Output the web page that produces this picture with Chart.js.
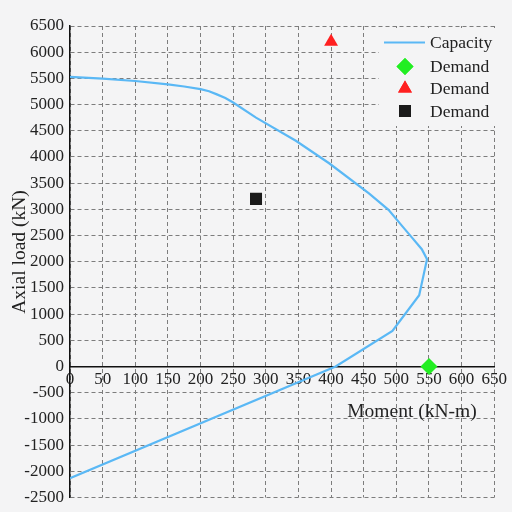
<!DOCTYPE html>
<html>
<head>
<meta charset="utf-8">
<script src="https://cdn.jsdelivr.net/npm/chart.js"></script>
<style>
  html, body { margin: 0; padding: 0; background: #f4f4f5; }
  canvas { display: block; }
</style>
</head>
<body>
<canvas id="myChart" width="512" height="512"></canvas>
<script>
// interaction diagram values
let capMoment = [0, 50, 100, 150, 175, 200, 213, 225, 238, 250, 285, 346, 397, 458, 488, 509, 524, 539, 547, 535, 494, 407, 0];
let capAxial = [5530, 5495, 5450, 5385, 5345, 5295, 5255, 5195, 5125, 5040, 4750, 4310, 3880, 3306, 2990, 2680, 2460, 2240, 2050, 1360, 680, 0, -2130];

let demandLabels = ['Demand', 'Demand', 'Demand'];
let demandMoment = [550, 400, 285];
let demandAxial = [0, 6200, 3200];
let demandColors = ['#22ee22', '#ff2020', '#1a1a1a'];
let demandStyles = ['rectRot', 'triangle', 'rect'];
let demandRadius = [8.5, 8, 8.5];

let bgColor = '#f4f4f5';
let serif = '"Liberation Serif", "Times New Roman", serif';

let capacityPoints = capMoment.map((m, i) => ({ x: m, y: capAxial[i] }));

let datasets = [{
  label: 'Capacity',
  data: capacityPoints,
  showLine: true,
  borderColor: '#5ab8f5',
  backgroundColor: '#5ab8f5',
  borderWidth: 2.2,
  pointRadius: 0,
  tension: 0
}];

demandMoment.forEach((m, i) => {
  datasets.push({
    label: demandLabels[i],
    data: [{ x: m, y: demandAxial[i] }],
    pointStyle: demandStyles[i],
    pointRadius: demandRadius[i],
    pointHoverRadius: demandRadius[i],
    backgroundColor: demandColors[i],
    borderColor: demandColors[i],
    borderWidth: 0
  });
});

// legend box + axis titles drawn by hand
let extras = {
  id: 'extras',
  beforeDraw(chart) {
    let c = chart.ctx;
    c.save();
    c.fillStyle = bgColor;
    c.fillRect(0, 0, chart.width, chart.height);
    c.restore();
  },
  afterDraw(chart) {
    let c = chart.ctx;
    c.save();
    c.fillStyle = bgColor;
    c.fillRect(379, 28, 118, 98);

    let rows = [42.5, 66.5, 88.5, 111];
    c.font = '17.5px ' + serif;
    c.textBaseline = 'middle';
    c.textAlign = 'left';
    chart.data.datasets.forEach((ds, i) => {
      let y = rows[i];
      if (ds.showLine) {
        c.strokeStyle = ds.borderColor;
        c.lineWidth = 2.2;
        c.beginPath();
        c.moveTo(384, y);
        c.lineTo(425, y);
        c.stroke();
      } else {
        c.fillStyle = ds.backgroundColor;
        Chart.helpers.drawPoint(c, {
          pointStyle: ds.pointStyle,
          radius: ds.pointRadius,
          rotation: 0,
          borderWidth: 0
        }, 405, y);
        c.fill();
      }
      c.fillStyle = '#222';
      c.fillText(ds.label, 430, y + 1);
    });

    c.font = '19.5px ' + serif;
    c.textAlign = 'center';
    c.fillText('Moment (kN-m)', 412, 412);

    c.translate(19.5, 252);
    c.rotate(-Math.PI / 2);
    c.fillText('Axial load (kN)', 0, 0);
    c.restore();
  }
};

let plain = (v) => String(v);

let ctx = document.getElementById('myChart').getContext('2d');
let myChart = new Chart(ctx, {
  type: 'scatter',
  data: { datasets: datasets },
  options: {
    responsive: false,
    animation: false,
    devicePixelRatio: 1,
    layout: { padding: { top: 26, right: 16, bottom: 9, left: 0 } },
    plugins: {
      legend: { display: false },
      tooltip: { enabled: false }
    },
    scales: {
      x: {
        type: 'linear',
        min: 0,
        max: 650,
        position: { y: 0 },
        ticks: {
          stepSize: 50,
          padding: 5,
          color: '#222',
          maxRotation: 0,
          autoSkip: false,
          callback: plain,
          font: { family: serif, size: 17, lineHeight: 1 }
        },
        grid: { color: '#7d7d7d', lineWidth: 1, drawTicks: false },
        border: { display: true, color: '#111', width: 1.5, dash: [4, 3] }
      },
      y: {
        type: 'linear',
        min: -2500,
        max: 6500,
        position: 'left',
        afterFit: (scale) => { scale.width = 70; },
        ticks: {
          stepSize: 500,
          padding: 6,
          color: '#222',
          autoSkip: false,
          callback: plain,
          font: { family: serif, size: 17, lineHeight: 1 }
        },
        grid: { color: '#7d7d7d', lineWidth: 1, drawTicks: false },
        border: { display: true, color: '#111', width: 1.5, dash: [4, 3] }
      }
    }
  },
  plugins: [extras]
});
</script>
</body>
</html>
